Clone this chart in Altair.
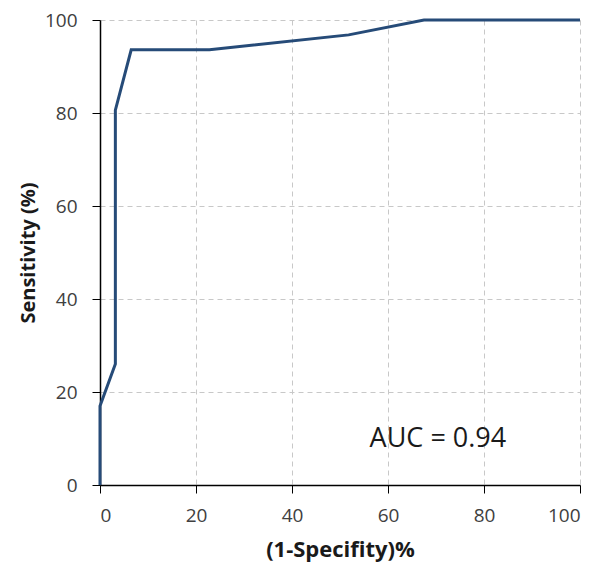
import altair as alt
import pandas as pd

fpr = [0, 0, 3.2, 3.2, 6.5, 22.8, 51.8, 67.5, 100]
tpr = [0, 17, 26, 80.6, 93.6, 93.6, 96.8, 100, 100]
order = list(range(len(fpr)))

df = pd.DataFrame({"fpr": fpr, "tpr": tpr, "order": order})
ann = pd.DataFrame({"x": [70.4], "y": [9.9], "label": ["AUC = 0.94"]})

font = "Open Sans"

line = alt.Chart(df).mark_line(color="#264b78", strokeWidth=3).encode(
    x=alt.X("fpr:Q", scale=alt.Scale(domain=[0, 100], nice=False),
            axis=alt.Axis(values=[0, 20, 40, 60, 80, 100], title="(1-Specifity)%",
                          labelPadding=13, titlePadding=14, titleFontSize=22)),
    y=alt.Y("tpr:Q", scale=alt.Scale(domain=[0, 100], nice=False),
            axis=alt.Axis(values=[0, 20, 40, 60, 80, 100], title="Sensitivity (%)",
                          labelPadding=15, titlePadding=6, titleFontSize=20)),
    order="order:O",
)

text = alt.Chart(ann).mark_text(fontSize=27, font=font, color="#1a1a1a", align="center", baseline="middle").encode(
    x="x:Q", y="y:Q", text="label:N"
)

chart = (line + text).properties(
    width=480, height=465,
    autosize=alt.AutoSizeParams(type="none"),
    padding={"left": 92, "top": 12, "right": 12, "bottom": 80},
).configure_view(stroke=None).configure_axis(
    grid=True, gridDash=[5, 4], gridColor="#c8c8c8", gridWidth=1,
    domainColor="#000000", domainWidth=1.5, tickColor="#000000", tickSize=8,
    labelFont=font, labelFontSize=19, labelColor="#404040",
    titleFont=font, titleFontWeight="bold", titleColor="#1a1a1a",
)

chart.save("out.html", embed_options={"renderer": "svg", "actions": False})
